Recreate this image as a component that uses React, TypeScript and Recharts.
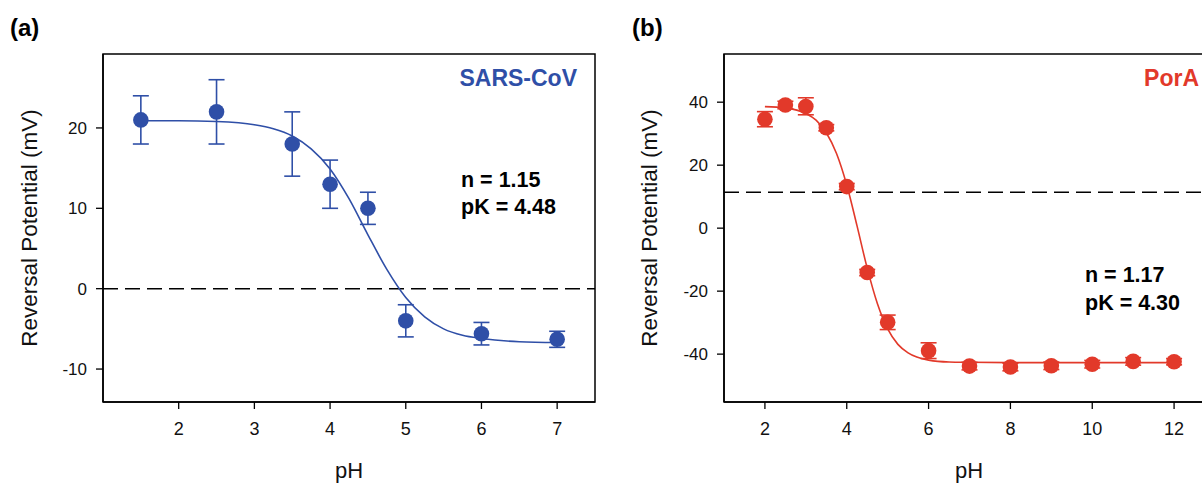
import React from 'react';
import {
  ComposedChart, XAxis, YAxis, Scatter, Line, ErrorBar, ReferenceLine, ReferenceArea,
} from 'recharts';

// ---------- Panel (a): SARS-CoV ----------
const phA = [1.5, 2.5, 3.5, 4, 4.5, 5, 6, 7];
const valA = [21, 22, 18, 13, 10, -4, -5.6, -6.3];
const errLoA = [3, 4, 4, 3, 2, 2, 1.4, 1];
const errHiA = [3, 4, 4, 3, 2, 2, 1.4, 1];
const fitPhA = [1.5, 2, 2.5, 3, 3.25, 3.5, 3.75, 4, 4.25, 4.5, 4.75, 5, 5.25, 5.5, 5.75, 6, 6.5, 7];
const fitValA = [20.9, 20.9, 20.8, 20.4, 19.9, 19.0, 17.4, 14.9, 11.2, 6.7, 2.4, -1.1, -3.5, -5.0, -5.8, -6.2, -6.6, -6.7];
const xTicksA = [2, 3, 4, 5, 6, 7];
const yTicksA = [-10, 0, 10, 20];

// ---------- Panel (b): PorA ----------
const phB = [2, 2.5, 3, 3.5, 4, 4.5, 5, 6, 7, 8, 9, 10, 11, 12];
const valB = [34.6, 39.1, 38.6, 31.9, 13.2, -14.1, -29.9, -38.9, -43.8, -44.1, -43.7, -43.2, -42.3, -42.4];
const errLoB = [2.4, 1.2, 2.6, 1, 1, 1, 2.3, 2.5, 1.2, 1.2, 1.2, 1.2, 1.2, 1];
const errHiB = [2.4, 1.2, 2.8, 1, 1, 1, 2.3, 2.5, 1.2, 1.2, 1.2, 1.2, 1.2, 1];
const fitPhB = [2, 2.5, 3, 3.25, 3.5, 3.75, 4, 4.25, 4.5, 4.75, 5, 5.25, 5.5, 6, 6.5, 7, 8, 9, 10, 11, 12];
const fitValB = [38.6, 38.2, 36.4, 34.3, 30.3, 23.7, 13.7, 0.8, -12.7, -24.0, -32.0, -36.9, -39.6, -41.9, -42.5, -42.6, -42.7, -42.7, -42.7, -42.7, -42.7];
const xTicksB = [2, 4, 6, 8, 10, 12];
const yTicksB = [-40, -20, 0, 20, 40];

const BLUE = '#2f4fa7';
const RED = '#e2392a';
const FONT = '"Liberation Sans", Arial, Helvetica, sans-serif';

const points = (xs: number[], ys: number[], lo: number[], hi: number[]) =>
  xs.map((x, i) => ({ x, y: ys[i], err: [lo[i], hi[i]] }));
const curve = (xs: number[], ys: number[]) => xs.map((x, i) => ({ x, y: ys[i] }));

type PanelProps = {
  left: number;
  width: number;
  yAxisWidth: number;
  xDomain: [number, number];
  yDomain: [number, number];
  xTicks: number[];
  yTicks: number[];
  pts: { x: number; y: number; err: number[] }[];
  fit: { x: number; y: number }[];
  color: string;
  refY: number;
};

const tickStyle = { fill: '#111', fontSize: 17, fontFamily: FONT };

function Panel(p: PanelProps) {
  const Dot = (props: any) => <circle cx={props.cx} cy={props.cy} r={7.8} fill={p.color} />;
  return (
    <div style={{ position: 'absolute', left: p.left, top: 0 }}>
      <ComposedChart
        width={p.width}
        height={484}
        margin={{ top: 54, right: 5, bottom: 22, left: 0 }}
      >
        <XAxis
          type="number"
          dataKey="x"
          domain={p.xDomain}
          ticks={p.xTicks}
          allowDataOverflow
          height={60}
          tickSize={7}
          tickMargin={13}
          axisLine={{ stroke: '#000', strokeWidth: 1.5 }}
          tickLine={{ stroke: '#000', strokeWidth: 1.3 }}
          tick={{ ...tickStyle, fontSize: 18 }}
        />
        <YAxis
          type="number"
          dataKey="y"
          domain={p.yDomain}
          ticks={p.yTicks}
          allowDataOverflow
          width={p.yAxisWidth}
          tickSize={7}
          tickMargin={9}
          axisLine={{ stroke: '#000', strokeWidth: 1.5 }}
          tickLine={{ stroke: '#000', strokeWidth: 1.3 }}
          tick={tickStyle}
        />
        <ReferenceArea
          x1={p.xDomain[0]}
          x2={p.xDomain[1]}
          y1={p.yDomain[0]}
          y2={p.yDomain[1]}
          fill="none"
          fillOpacity={0}
          stroke="#000"
          strokeWidth={1.5}
        />
        <ReferenceLine y={p.refY} stroke="#000" strokeWidth={1.5} strokeDasharray="15 7" />
        <Line
          data={p.fit}
          dataKey="y"
          type="monotone"
          stroke={p.color}
          strokeWidth={1.6}
          dot={false}
          activeDot={false}
          isAnimationActive={false}
        />
        <Scatter data={p.pts} fill={p.color} shape={Dot} isAnimationActive={false}>
          <ErrorBar dataKey="err" direction="y" width={8} stroke={p.color} strokeWidth={1.6} />
        </Scatter>
      </ComposedChart>
    </div>
  );
}

export default function App() {
  return (
    <div
      style={{
        position: 'absolute',
        left: 0,
        top: 0,
        width: 1202,
        height: 484,
        overflow: 'hidden',
        background: '#fff',
        fontFamily: FONT,
      }}
    >
      <Panel
        left={0}
        width={600}
        yAxisWidth={103}
        xDomain={[1, 7.5]}
        yDomain={[-14.1, 29.2]}
        xTicks={xTicksA}
        yTicks={yTicksA}
        pts={points(phA, valA, errLoA, errHiA)}
        fit={curve(fitPhA, fitValA)}
        color={BLUE}
        refY={0}
      />
      <Panel
        left={600}
        width={620}
        yAxisWidth={124}
        xDomain={[1, 13]}
        yDomain={[-55.2, 55.3]}
        xTicks={xTicksB}
        yTicks={yTicksB}
        pts={points(phB, valB, errLoB, errHiB)}
        fit={curve(fitPhB, fitValB)}
        color={RED}
        refY={11.4}
      />
      <svg
        width={1202}
        height={484}
        style={{ position: 'absolute', left: 0, top: 0, pointerEvents: 'none' }}
        fontFamily={FONT}
      >
        <text x={10} y={36} fontSize={24} fontWeight="bold" fill="#000">(a)</text>
        <text x={632} y={36} fontSize={24} fontWeight="bold" fill="#000">(b)</text>

        <text x={577} y={86} fontSize={23} fontWeight="bold" fill={BLUE} textAnchor="end">SARS-CoV</text>
        <text x={1199} y={86} fontSize={23} fontWeight="bold" fill={RED} textAnchor="end">PorA</text>

        <text x={461} y={187} fontSize={21.5} fontWeight="bold" fill="#000">n = 1.15</text>
        <text x={461} y={214} fontSize={21.5} fontWeight="bold" fill="#000">pK = 4.48</text>
        <text x={1085} y={282} fontSize={21.5} fontWeight="bold" fill="#000">n = 1.17</text>
        <text x={1085} y={310} fontSize={21.5} fontWeight="bold" fill="#000">pK = 4.30</text>

        <text
          x={29}
          y={228}
          fontSize={22.5}
          fill="#111"
          textAnchor="middle"
          dominantBaseline="central"
          transform="rotate(-90 29 228)"
        >
          Reversal Potential (mV)
        </text>
        <text
          x={649}
          y={228}
          fontSize={22.5}
          fill="#111"
          textAnchor="middle"
          dominantBaseline="central"
          transform="rotate(-90 649 228)"
        >
          Reversal Potential (mV)
        </text>

        <text x={349} y={478} fontSize={22} fill="#111" textAnchor="middle">pH</text>
        <text x={969} y={478} fontSize={22} fill="#111" textAnchor="middle">pH</text>
      </svg>
    </div>
  );
}
